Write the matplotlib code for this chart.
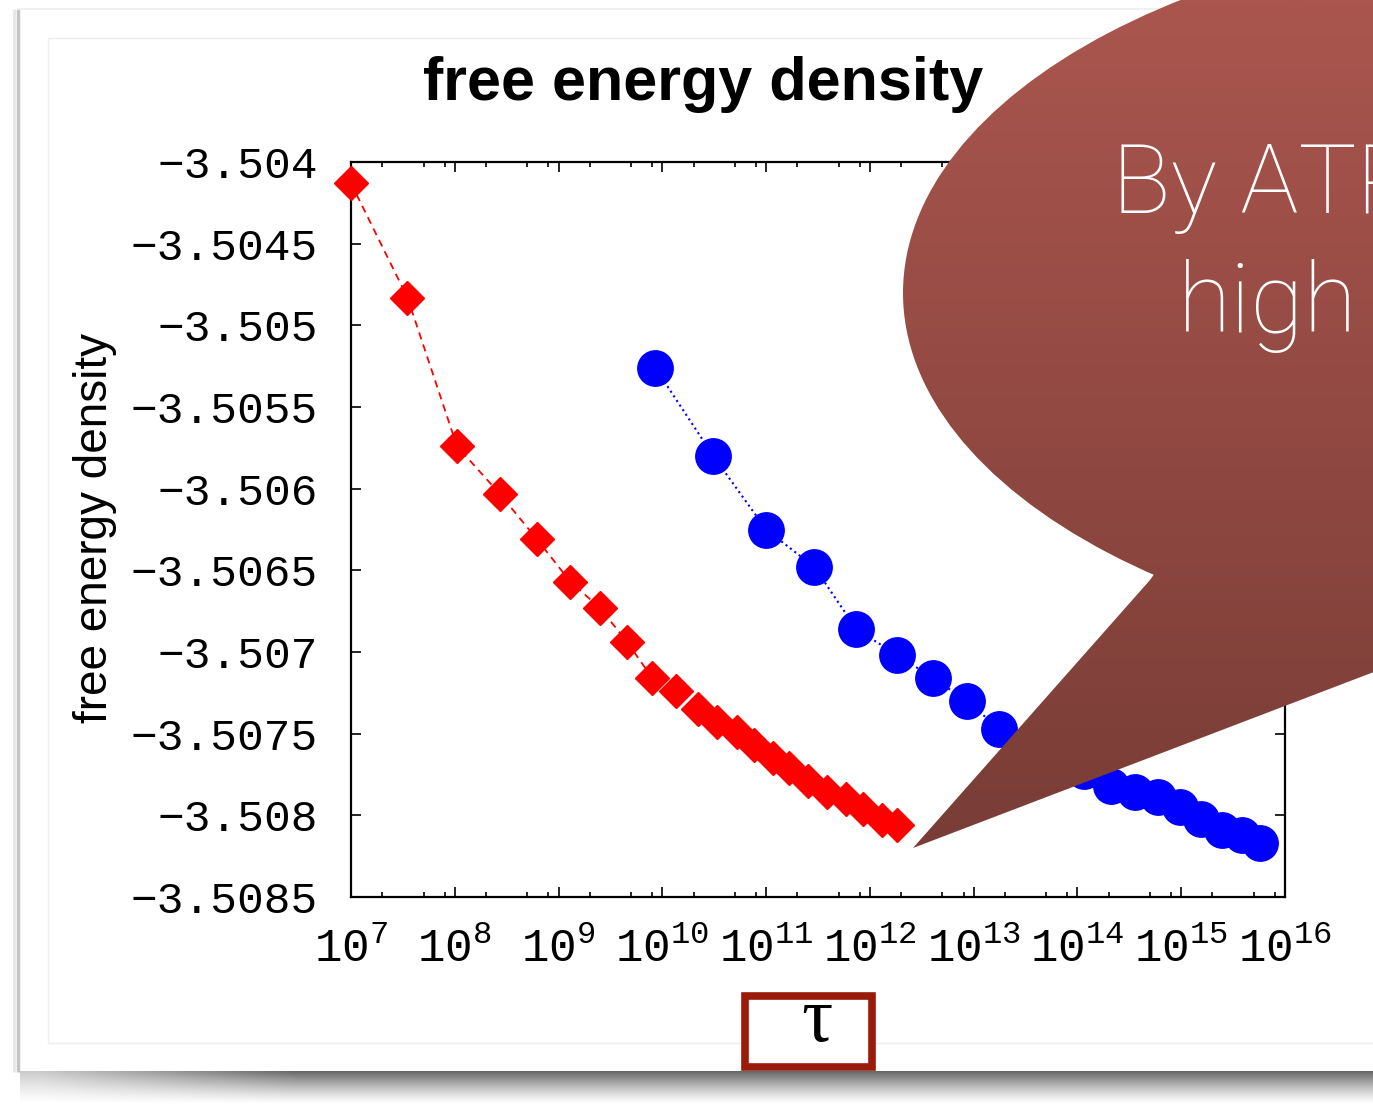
import matplotlib
matplotlib.use("Agg")
import matplotlib.pyplot as plt
import numpy as np
from matplotlib.patches import Ellipse, Polygon, Rectangle
from matplotlib.ticker import FixedLocator, LogLocator, NullLocator

# --- data ----------------------------------------------------------------
red_tau = [1.0e7, 3.5e7, 1.05e8, 2.7e8, 6.2e8, 1.3e9, 2.5e9, 4.6e9, 8.0e9,
           1.36e10, 2.2e10, 3.4e10, 5.2e10, 7.7e10, 1.17e11, 1.67e11,
           2.55e11, 3.9e11, 5.9e11, 8.6e11, 1.32e12, 1.84e12]
red_f = [-3.50413, -3.50483, -3.50574, -3.50603, -3.50631, -3.50657,
         -3.50673, -3.50694, -3.50716, -3.50724, -3.50735, -3.50743,
         -3.50749, -3.50757, -3.50765, -3.50771, -3.50779, -3.50786,
         -3.50790, -3.50796, -3.50803, -3.50806]

blue_tau = [8.55e9, 3.1e10, 1.0e11, 2.92e11, 7.41e11, 1.84e12, 4.09e12,
            8.53e12, 1.77e13, 3.53e13, 6.58e13, 1.15e14, 2.09e14, 3.55e14,
            5.92e14, 9.66e14, 1.54e15, 2.45e15, 3.82e15, 5.70e15]
blue_f = [-3.50526, -3.50580, -3.50625, -3.50648, -3.50686, -3.50702,
          -3.50716, -3.50730, -3.50747, -3.50757, -3.50766, -3.50773,
          -3.50782, -3.50786, -3.50789, -3.50795, -3.50802, -3.50809,
          -3.50812, -3.50817]

ytick_vals = [-3.504, -3.5045, -3.505, -3.5055, -3.506, -3.5065,
              -3.507, -3.5075, -3.508, -3.5085]
ytick_labels = ['\u22123.504', '\u22123.5045', '\u22123.505', '\u22123.5055',
                '\u22123.506', '\u22123.5065', '\u22123.507', '\u22123.5075',
                '\u22123.508', '\u22123.5085']
xtick_exp = [7, 8, 9, 10, 11, 12, 13, 14, 15, 16]

W, H = 1373, 1105
fig = plt.figure(figsize=(W / 100, H / 100), dpi=100)
fig.patch.set_facecolor('white')

# background: slide frame and shadow (pixel coords)
bg = fig.add_axes([0, 0, 1, 1], zorder=-1)
bg.set_xlim(0, W)
bg.set_ylim(H, 0)
bg.axis('off')
bg.plot([18, 18], [9, 1072], color='#c4c4c4', lw=2.5, solid_capstyle='butt')
bg.plot([14, 14], [9, 1072], color='#e6e6e6', lw=2.0, solid_capstyle='butt')
bg.plot([18, W], [9, 9], color='#eeeeee', lw=1.2)
bg.add_patch(Rectangle((48, 38), 1400, 1005, fill=False, ec='#efefef', lw=1.0))
yy, xx = np.mgrid[0:34, 0:W]
alpha = 0.6 * (1 - yy / 33.0) ** 1.3 * (0.35 + 0.65 * np.clip((xx - 20) / 260.0, 0, 1))
shadow = np.zeros((34, W, 4))
shadow[..., 3] = alpha
bg.imshow(shadow, extent=(20, W, 1105, 1071), aspect='auto', interpolation='bilinear')

# main plot
ax = fig.add_axes([351 / W, 1 - 897 / H, (1285 - 351) / W, (897 - 162) / H], zorder=1)
ax.plot(red_tau, red_f, color='red', ls='--', lw=1.3, dashes=(4, 3),
        marker='D', ms=17, mec='red', mfc='red', clip_on=False, zorder=3)
ax.plot(blue_tau, blue_f, color='blue', ls=':', lw=1.5,
        marker='o', ms=25.5, mec='blue', mfc='blue', clip_on=False, zorder=3)
ax.set_xscale('log')
ax.set_xlim(1e7, 1e16)
ax.set_ylim(-3.5085, -3.504)
ax.xaxis.set_major_locator(FixedLocator([10.0 ** e for e in xtick_exp]))
ax.xaxis.set_minor_locator(LogLocator(base=10, subs=[2, 5, 8], numticks=30))
ax.set_xticklabels([r'$\mathregular{10^{%d}}$' % e for e in xtick_exp])
ax.set_yticks(ytick_vals)
ax.set_yticklabels(ytick_labels)
ax.yaxis.set_minor_locator(NullLocator())
ax.tick_params(which='both', direction='in', top=True, right=True, width=1.2)
ax.tick_params(which='major', length=7)
ax.tick_params(which='minor', length=3.5)
ax.tick_params(axis='y', pad=24, labelsize=32)
ax.tick_params(axis='x', pad=22, labelsize=33)
for lab in ax.get_xticklabels() + ax.get_yticklabels():
    lab.set_family('Liberation Mono')
for sp in ax.spines.values():
    sp.set_linewidth(1.6)

fig.text(0.5124, 1 - 100 / H, 'free energy density', ha='center', va='baseline',
         fontsize=44, fontweight='bold', family='Liberation Sans')
fig.text(95 / W, 1 - 528 / H, 'free energy density', ha='center', va='center',
         rotation=90, fontsize=33, family='Liberation Sans')

# foreground: speech bubble and tau box
fg = fig.add_axes([0, 0, 1, 1], zorder=5)
fg.set_xlim(0, W)
fg.set_ylim(H, 0)
fg.axis('off')
fg.patch.set_alpha(0)

grad = np.linspace(0, 1, 256)[:, None]
top_c = np.array([170, 86, 78]) / 255
bot_c = np.array([120, 60, 54]) / 255
img = (top_c[None, None, :] * (1 - grad[..., None]) + bot_c[None, None, :] * grad[..., None])
ell = Ellipse((1603, 293), 1400, 735, fc='none', ec='none')
tail = Polygon([(1150, 580), (913, 848), (1400, 662), (1400, 420), (1250, 440)],
               closed=True, fc='none', ec='none')
fg.add_patch(ell)
fg.add_patch(tail)
for clip in (ell, tail):
    im = fg.imshow(img, extent=(880, W, 860, 0), aspect='auto', interpolation='bilinear')
    im.set_clip_path(clip)

fg.text(1112, 213, 'By ATRG', color='white', fontsize=70, ha='left', va='baseline',
        family=['Roboto', 'Open Sans', 'Lato', 'DejaVu Sans'], fontweight='light')
fg.text(1178, 332, 'high', color='white', fontsize=70, ha='left', va='baseline',
        family=['Roboto', 'Open Sans', 'Lato', 'DejaVu Sans'], fontweight='light')

fg.add_patch(Rectangle((745, 996), 127, 71, fill=True, fc='white', ec='#9b1b0a', lw=5.5))
fg.text(817, 1022, '\u03c4', ha='center', va='center', fontsize=56, family='Liberation Serif')

fig.savefig('out.png', dpi=100)
